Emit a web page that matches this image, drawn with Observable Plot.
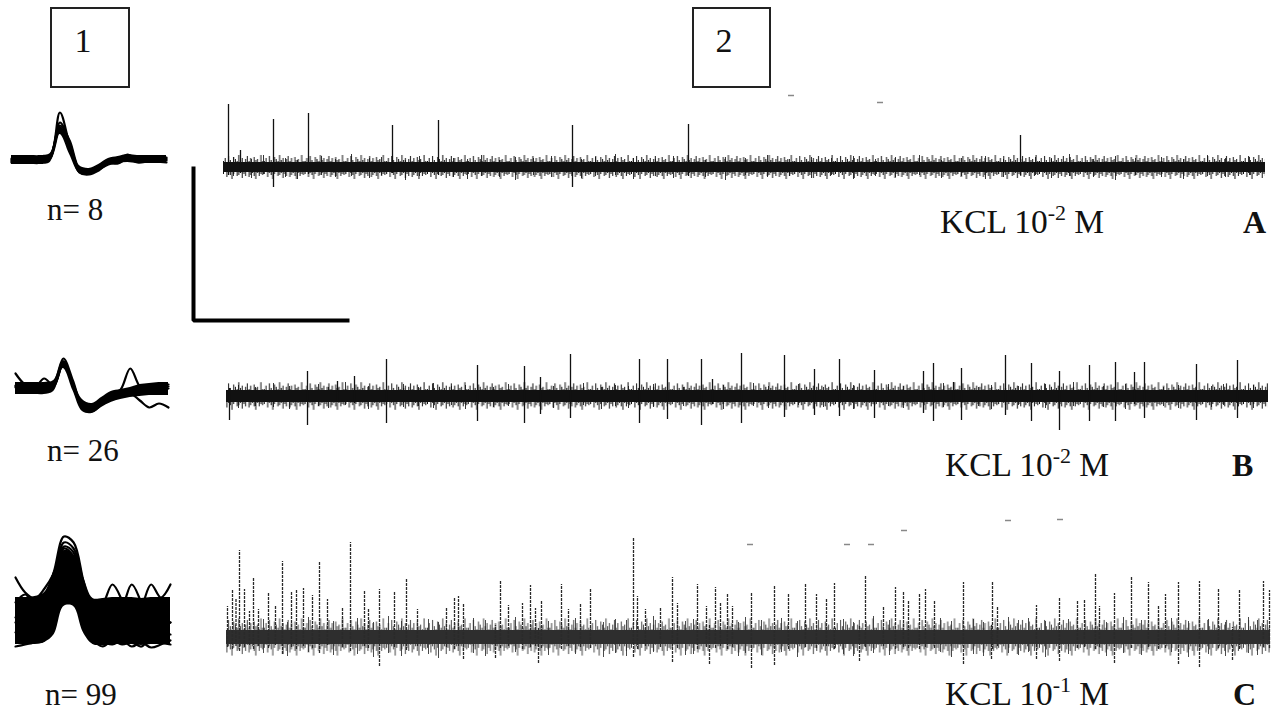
<!DOCTYPE html>
<html><head><meta charset="utf-8">
<script src="https://cdn.jsdelivr.net/npm/d3@7"></script>
<script src="https://cdn.jsdelivr.net/npm/@observablehq/plot@0.6"></script>
<style>
body{margin:0;background:#fff;}
#fig{position:relative;width:1274px;height:711px;overflow:hidden;background:#fff;}
</style></head>
<body><div id="fig"></div>
<script>
// ================= DATA =================
// --- recordings (panel 2): spikes as [time s, peak up, peak down] (µV, relative to baseline)
const spikesA = [
  [0.05, 63, -8], [0.17, 17, -6], [0.50, 48, -20], [0.85, 54, -7], [1.69, 42, -6],
  [2.15, 47, -8], [3.49, 42, -20], [4.65, 43, -9], [7.97, 32, -8]
];
const spikesB = [
  [0.06, 8, -24], [0.84, 25, -29], [1.14, 15, -6], [1.31, 20, -7], [1.63, 37, -27],
  [2.54, 31, -25], [3.01, 30, -27], [3.17, 19, -18], [3.47, 42, -22], [4.16, 37, -27],
  [4.44, 37, -23], [4.78, 37, -29], [4.89, 17, -8], [5.18, 43, -27], [5.61, 41, -21],
  [5.91, 27, -19], [6.16, 37, -20], [6.51, 26, -22], [7.00, 25, -17], [7.10, 33, -25],
  [7.30, 14, -6], [7.38, 28, -24], [7.82, 41, -19], [8.08, 33, -25], [8.36, 25, -34],
  [8.66, 31, -25], [8.92, 34, -25], [9.11, 24, -8], [9.21, 34, -22], [9.73, 32, -24],
  [10.14, 36, -22]
];
const spikesC = [
  [0.04, 31, -10], [0.09, 47, -12], [0.125, 38, -9], [0.16, 87, -14], [0.21, 48, -10],
  [0.26, 26, -8], [0.30, 60, -12], [0.35, 28, -9], [0.45, 45, -11], [0.52, 31, -8],
  [0.59, 76, -17], [0.68, 45, -10], [0.73, 48, -12], [0.80, 49, -9], [0.89, 42, -11],
  [0.96, 75, -16], [1.04, 38, -8], [1.19, 29, -10], [1.27, 95, -14], [1.41, 46, -9],
  [1.45, 29, -11], [1.56, 48, -29], [1.71, 46, -10], [1.83, 58, -13], [1.94, 28, -9],
  [2.23, 29, -10], [2.31, 40, -12], [2.35, 41, -9], [2.40, 33, -22], [2.72, 12, -21],
  [2.77, 56, -11], [2.85, 32, -9], [2.99, 34, -12], [3.07, 52, -10], [3.12, 29, -9],
  [3.15, 10, -26], [3.18, 37, -11], [3.38, 53, -12], [3.45, 28, -9], [3.57, 34, -10],
  [3.67, 48, -11], [4.10, 100, -20], [4.14, 41, -12], [4.22, 28, -9], [4.37, 30, -10],
  [4.49, 60, -25], [4.54, 34, -11], [4.74, 53, -12], [4.83, 31, -10], [4.86, 12, -27],
  [4.92, 50, -11], [4.97, 34, -9], [5.04, 43, -12], [5.09, 31, -10], [5.28, 45, -31],
  [5.51, 51, -28], [5.65, 44, -12], [5.82, 54, -10], [5.93, 43, -11], [6.03, 38, -9],
  [6.11, 54, -12], [6.36, 12, -24], [6.42, 62, -10], [6.60, 31, -9], [6.72, 50, -12],
  [6.80, 46, -10], [6.85, 37, -11], [6.96, 44, -12], [7.02, 48, -10], [7.11, 37, -11],
  [7.40, 55, -27], [7.68, 12, -22], [7.69, 55, -12], [7.74, 31, -9], [8.13, 32, -22],
  [8.36, 39, -24], [8.54, 37, -11], [8.61, 38, -10], [8.72, 64, -12], [8.76, 31, -10],
  [8.91, 44, -26], [9.08, 60, -11], [9.25, 55, -10], [9.35, 32, -12], [9.42, 43, -11],
  [9.55, 55, -27], [9.76, 56, -30], [9.95, 48, -11], [10.09, 10, -23], [10.16, 47, -12],
  [10.40, 56, -10], [10.46, 47, -11]
];
// larger background-noise deflections [time s, up, down]
const noiseA = [
  [0.10,10,-9],[0.28,8,-11],[0.40,12,-7],[0.62,9,-10],[0.74,7,-12],[0.98,11,-8],[1.12,8,-10],
  [1.28,13,-9],[1.46,9,-11],[1.58,10,-8],[1.82,7,-13],[1.96,11,-9],[2.30,9,-10],[2.44,8,-12],
  [2.58,12,-9],[2.76,7,-10],[2.92,10,-13],[3.10,9,-8],[3.28,11,-10],[3.58,8,-11],[3.72,10,-9],
  [3.92,13,-8],[4.10,9,-12],[4.32,8,-9],[4.50,11,-11],[4.82,7,-10],[5.02,10,-13],[5.22,9,-8],
  [5.44,12,-10],[5.66,8,-9],[5.88,10,-11],[6.08,9,-8],[6.30,11,-12],[6.52,8,-9],[6.72,10,-10],
  [6.96,12,-8],[7.18,7,-11],[7.38,9,-9],[7.62,11,-12],[7.80,8,-10],[8.12,10,-8],[8.28,9,-11],
  [8.46,13,-9],[8.70,8,-10],[8.92,11,-13],[9.12,9,-8],[9.38,10,-10],[9.60,8,-12],[9.84,12,-9],
  [10.02,9,-10],[10.26,10,-8]
];
const noiseB = [
  [0.15,11,-12],[0.32,9,-10],[0.50,13,-11],[0.66,10,-13],[0.95,12,-10],[1.05,9,-12],[1.22,14,-9],
  [1.45,10,-13],[1.80,12,-11],[1.95,9,-10],[2.10,13,-12],[2.28,10,-9],[2.42,11,-13],[2.70,9,-11],
  [2.85,12,-10],[3.30,10,-12],[3.60,13,-9],[3.78,9,-13],[3.92,11,-10],[4.05,10,-12],[4.30,12,-11],
  [4.60,9,-10],[5.00,11,-13],[5.30,13,-10],[5.45,10,-12],[5.75,12,-9],[6.00,9,-11],[6.30,11,-13],
  [6.65,12,-10],[6.80,10,-12],[7.20,13,-11],[7.55,9,-10],[7.68,11,-13],[7.95,10,-9],[8.22,12,-12],
  [8.50,14,-10],[8.80,10,-11],[9.02,12,-13],[9.40,9,-10],[9.55,11,-12],[9.88,10,-11],[10.00,12,-9],
  [10.30,11,-12]
];
const noiseC = [
  [0.40,18,-16],[0.64,15,-19],[0.85,20,-15],[1.10,16,-18],[1.34,19,-17],[1.50,15,-20],[1.65,21,-16],
  [1.78,16,-19],[2.05,18,-17],[2.15,15,-21],[2.50,19,-16],[2.62,17,-19],[2.92,20,-15],[3.25,16,-18],
  [3.52,19,-17],[3.80,15,-20],[3.92,18,-16],[4.03,17,-19],[4.30,21,-15],[4.62,16,-18],[4.70,18,-17],
  [5.15,15,-19],[5.22,20,-16],[5.38,17,-18],[5.58,19,-15],[5.74,16,-20],[6.20,18,-17],[6.30,15,-19],
  [6.50,21,-16],[6.66,17,-18],[7.17,19,-15],[7.28,16,-20],[7.50,18,-17],[7.60,15,-19],[7.85,20,-16],
  [7.95,17,-18],[8.05,19,-15],[8.22,16,-20],[8.45,18,-17],[8.83,15,-19],[9.00,20,-16],[9.18,17,-18],
  [9.48,19,-15],[9.65,16,-20],[9.85,18,-17],[10.02,15,-19],[10.25,20,-16],[10.34,17,-18]
];
// scanning specks above traces [time s, level]
const specksA = [[5.68, 72], [6.57, 65]];
const specksC = [[5.27, 93], [6.24, 93], [6.48, 93], [6.81, 107], [7.85, 117], [8.37, 118]];

// --- superimposed spike waveforms (panel 1): amplitude (µV) at each sample time (ms)
const waveT = [0, 0.1, 0.2, 0.3, 0.4, 0.5, 0.6, 0.7, 0.8, 0.9, 1.0, 1.1, 1.2, 1.3, 1.4, 1.5, 1.6];
const bandN8Upper = [5, 5, 5, 5, 7, 34, 14, -5, -8, -4, 2, 4, 6, 5, 5, 5, 5];
const bandN8Lower = [-4, -4, -4, -4, -2, 26, 6, -13, -15, -11, -5, -3, -2, -3, -3, -3, -3];
const wavesN8 = [
  [1, 0, 2, 0, 3, 48, 16, -10, -12, -7, -3, 0, 6, 1, 2, 0, 2],
  [-1, 2, 0, 1, 4, 38, 18, -9, -13, -8, -2, -1, 3, 0, 1, 3, 1],
  [0, -2, 1, -1, 2, 30, 14, -11, -12, -9, -4, -2, 1, -1, 0, -1, -2],
  [2, 1, -1, 2, 5, 35, 20, -8, -11, -6, -1, 1, 4, 2, 3, 2, 3],
  [-2, 0, 0, -1, 3, 33, 15, -12, -14, -10, -3, -3, 2, -2, -1, 1, 0]
];
const bandN26Upper = [6, 6, 6, 6, 8, 28, 9, -11, -15, -9, -3, -1, 1, 4, 5, 6, 6];
const bandN26Lower = [-6, -6, -6, -6, -3, 20, -2, -23, -25, -19, -14, -11, -9, -8, -7, -7, -7];
const wavesN26 = [
  [3, 2, 4, 1, 5, 30, 8, -18, -22, -15, -9, -6, -4, -1, 2, 3, 4],
  [15, 4, 1, 10, 3, 27, 5, -19, -21, -14, -10, -6, -4, -2, 0, 2, 2],
  [2, 0, 1, 0, 3, 24, 5, -17, -19, -12, -7, -1, 20, 2, -4, -2, 0],
  [1, -1, 0, 1, 2, 25, 3, -20, -23, -16, -11, -7, -5, -12, -19, -15, -19]
];
const bandN99Upper = [25, 25, 26, 30, 52, 72, 68, 46, 24, 24, 25, 25, 25, 24, 25, 25, 25];
const bandN99Lower = [-22, -22, -22, -20, -12, 16, 16, -10, -22, -23, -22, -22, -22, -23, -22, -22, -22];
const wavesN99 = [
  [0, 5, 10, 22, 52, 86, 80, 42, 8, -12, -10, -5, 0, -2, 0, 2, 0],
  [45, 30, 24, 34, 50, 74, 66, 35, 10, 18, 38, 22, -5, -10, -8, -10, -12],
  [5, 2, 8, 20, 45, 80, 74, 40, 6, -12, 5, 15, 38, 20, 0, -5, 0],
  [-10, -15, -10, 0, 30, 76, 70, 30, -10, -22, -15, -8, 0, 15, 38, 25, 38],
  [20, 28, 18, 22, 42, 70, 62, 28, -16, -24, -18, -22, -20, -24, -15, -20, -22],
  [-24, -22, -20, -18, 10, 64, 60, 15, -20, -20, -22, -18, -24, -20, -25, -22, -18]
];
const waveCounts = ["n= 8", "n= 26", "n= 99"];

// --- scale bar lengths (s, µV on the recording scales)
const scaleBarTime = 1.54;
const scaleBarAmp = 152;

// --- labels
const rowLetters = ["A", "B", "C"];
const rowConc = [["KCL 10", "-2", " M"], ["KCL 10", "-2", " M"], ["KCL 10", "-1", " M"]];
const panelNumbers = ["1", "2"];

// ================= DRAW =================
const fig = document.getElementById("fig");
function place(node, left, top) {
  node.style.position = "absolute";
  node.style.left = left + "px";
  node.style.top = top + "px";
  fig.appendChild(node);
}
const base = {style: {background: "transparent", overflow: "visible"}};

// fine noise texture of the recording band (style): [up, down] pixel strokes
const noiseTexture = [[6,7],[9,5],[4,10],[11,6],[7,8],[5,12],[10,7],[8,4],[6,9],[12,8],[7,6],[9,11],
  [5,7],[8,9],[11,5],[6,10],[9,8],[4,6],[10,9],[7,12],[8,6],[5,9],[12,7],[6,8]];

function tracePlot(o) {
  const band = [{t: o.t0}, {t: o.t1}];
  const svgEl = Plot.plot({
    ...base, width: 1050, height: o.height, margin: 0,
    x: {domain: [0, 10.5], axis: null},
    y: {domain: o.yDomain, axis: null},
    marks: [
      Plot.areaY(band, {x: "t", y1: () => -o.fuzz, y2: () => o.fuzz, fill: `url(#${o.id})`}),
      Plot.ruleX(o.noise, {x: d => d[0], y1: d => d[2], y2: d => d[1], stroke: o.color, strokeWidth: 1, strokeOpacity: 0.85}),
      Plot.areaY(band, {x: "t", y1: () => -o.core, y2: () => o.core, fill: o.coreColor}),
      Plot.ruleX(o.spikes, {x: d => d[0], y1: d => Math.min(d[2], 0), y2: d => d[1], stroke: o.color, strokeWidth: o.sw, strokeDasharray: o.dash}),
      Plot.ruleY(o.specks, {y: d => d[1], x1: d => d[0] - 0.03, x2: d => d[0] + 0.03, stroke: "#888", strokeWidth: 1.5})
    ]
  });
  // texture pattern anchored on the baseline pixel
  const yb = o.height * o.yDomain[1] / (o.yDomain[1] - o.yDomain[0]);
  const step = 1.7;
  const defs = d3.select(svgEl).insert("defs", ":first-child");
  const pat = defs.append("pattern").attr("id", o.id).attr("patternUnits", "userSpaceOnUse")
    .attr("width", noiseTexture.length * step).attr("height", o.height);
  noiseTexture.forEach(([u, d], i) => pat.append("rect")
    .attr("x", i * step).attr("y", yb - u * o.texScale).attr("width", 1)
    .attr("height", (u + d) * o.texScale).attr("fill", o.texColor));
  return svgEl;
}

place(tracePlot({id: "texA", spikes: spikesA, noise: noiseA, specks: specksA, t0: 0, t1: 10.42, core: 5, fuzz: 13,
  texScale: 1.0, texColor: "#111", coreColor: "#111", color: "#111", sw: 1.3, yDomain: [-30, 75], height: 105}), 223, 92);
place(tracePlot({id: "texB", spikes: spikesB, noise: noiseB, specks: [], t0: 0.03, t1: 10.45, core: 6, fuzz: 15,
  texScale: 1.15, texColor: "#111", coreColor: "#111", color: "#111", sw: 1.3, yDomain: [-40, 60], height: 100}), 223, 336);
place(tracePlot({id: "texC", spikes: spikesC, noise: noiseC, specks: specksC, t0: 0.03, t1: 10.47, core: 7, fuzz: 19,
  texScale: 1.55, texColor: "#444", coreColor: "#2e2e2e", color: "#2a2a2a", sw: 1.3, dash: "3 1", yDomain: [-40, 120], height: 160}), 223, 517);

function wavePlot(waves, o) {
  const rows = waves.flatMap((w, i) => w.map((v, j) => ({t: waveT[j], v, id: i})));
  const band = waveT.map((t, j) => ({t, lo: o.lower[j], hi: o.upper[j]}));
  return Plot.plot({
    ...base, width: o.width, height: o.height, margin: 0,
    x: {domain: [0, 1.6], axis: null},
    y: {domain: o.yDomain, axis: null},
    marks: [
      Plot.areaY(band, {x: "t", y1: "lo", y2: "hi", fill: "#000", curve: "catmull-rom"}),
      Plot.line(rows, {x: "t", y: "v", z: "id", stroke: "#000", strokeWidth: o.sw, curve: "catmull-rom"})
    ]
  });
}
place(wavePlot(wavesN8, {width: 155, height: 90, yDomain: [-30, 60], sw: 2.2, upper: bandN8Upper, lower: bandN8Lower}), 11, 100);
place(wavePlot(wavesN26, {width: 153, height: 80, yDomain: [-40, 40], sw: 2.2, upper: bandN26Upper, lower: bandN26Lower}), 15, 348);
place(wavePlot(wavesN99, {width: 155, height: 140, yDomain: [-40, 100], sw: 2.2, upper: bandN99Upper, lower: bandN99Lower}), 15, 522);

// scale bar (100 px per s, 1 px per µV as in the recordings)
place(Plot.plot({
  ...base, width: 165, height: 162, marginLeft: 5, marginRight: 0, marginTop: 5, marginBottom: 5,
  x: {domain: [0, 1.6], axis: null},
  y: {domain: [0, 152], axis: null},
  marks: [Plot.line([{t: 0, a: scaleBarAmp}, {t: 0, a: 0}, {t: scaleBarTime, a: 0}],
    {x: "t", y: "a", stroke: "#000", strokeWidth: 4, strokeLinejoin: "miter", strokeLinecap: "square"})]
}), 188, 163);

// text + panel boxes
const svg = d3.select(fig).append("svg")
  .attr("width", 1274).attr("height", 711)
  .style("position", "absolute").style("left", 0).style("top", 0)
  .style("font-family", "'Liberation Serif', 'Times New Roman', serif").style("fill", "#111");
[[51, 8, 78, 79, 83], [693, 8, 77, 79, 724]].forEach(([x, y, w, h, cx], i) => {
  svg.append("rect").attr("x", x).attr("y", y).attr("width", w).attr("height", h)
    .attr("fill", "none").attr("stroke", "#222").attr("stroke-width", 2);
  svg.append("text").attr("x", cx).attr("y", 52).attr("text-anchor", "middle")
    .attr("font-size", 34).text(panelNumbers[i]);
});
[[47, 220], [47, 461], [45, 705]].forEach(([x, y], i) => {
  svg.append("text").attr("x", x).attr("y", y).attr("font-size", 31).text(waveCounts[i]);
});
[[940, 233, 1243], [945, 476, 1232], [945, 705, 1233]].forEach(([x, y, lx], i) => {
  const t = svg.append("text").attr("x", x).attr("y", y).attr("font-size", 33.5);
  t.append("tspan").text(rowConc[i][0]);
  t.append("tspan").attr("dy", -13).attr("font-size", 22).text(rowConc[i][1]);
  t.append("tspan").attr("dy", 13).text(rowConc[i][2]);
  svg.append("text").attr("x", lx).attr("y", y).attr("font-size", 32).attr("font-weight", "bold").text(rowLetters[i]);
});
</script>
</body></html>
